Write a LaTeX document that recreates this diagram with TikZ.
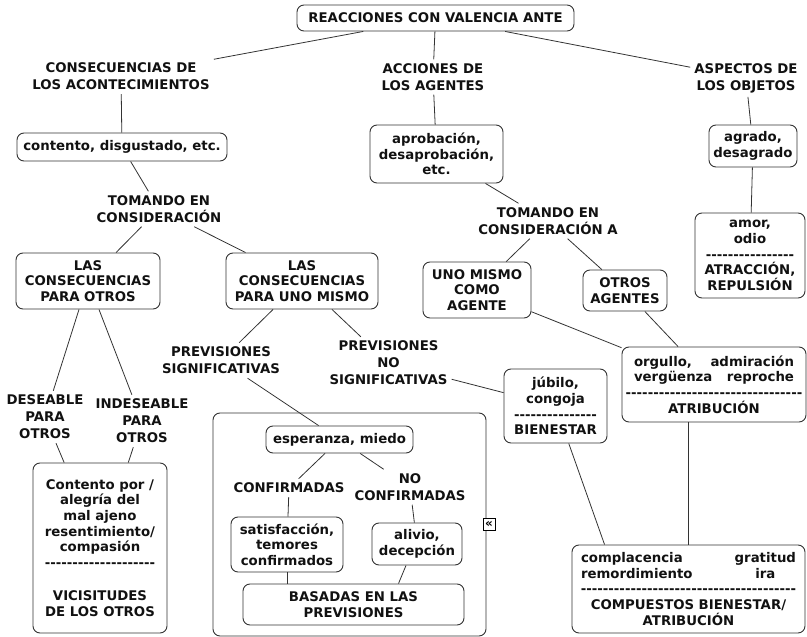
\documentclass[tikz,border=0pt]{standalone}
\usepackage{fontspec}
\setmainfont{DejaVu Sans}
\usetikzlibrary{positioning}
\definecolor{trazo}{HTML}{333333}
\definecolor{texto}{HTML}{111111}
\newcommand\guiones[1]{\foreach\g in {1,...,#1}{\mbox{-}}}

\begin{document}
\begin{tikzpicture}[
    x=1pt, y=-1pt,
    caja/.style={draw=trazo, line width=0.9pt, rounded corners=7pt,
      inner sep=0pt, align=center, text=texto,
      font=\fontsize{13.3}{15.6}\selectfont\bfseries},
    etiqueta/.style={inner sep=4pt, align=center, text=texto,
      font=\fontsize{13.3}{17}\selectfont\bfseries},
    enlace/.style={draw=trazo, line width=0.8pt}
  ]
  \useasboundingbox (0,0) rectangle (807,637);

  % marco de las previsiones
  \node[caja, minimum width=273pt, minimum height=223pt] (marco) at (349.5,524.5) {};

  \node[caja, minimum width=277pt, minimum height=26pt] (raiz) at (435.5,18) {REACCIONES CON VALENCIA ANTE};

  \node[etiqueta] (acont) at (121,76.5) {CONSECUENCIAS DE\\LOS ACONTECIMIENTOS};
  \node[etiqueta] (acciones) at (433,77) {ACCIONES DE\\LOS AGENTES};
  \node[etiqueta] (objetos) at (746,78) {ASPECTOS DE\\LOS OBJETOS};

  \node[caja, minimum width=210pt, minimum height=28pt] (contento) at (122,147) {contento, disgustado, etc.};
  \node[caja, minimum width=133pt, minimum height=58pt] (aprob) at (436.5,154) {aprobación,\\desaprobación,\\etc.};
  \node[caja, minimum width=88pt, minimum height=42pt] (agrado) at (753,146) {agrado,\\desagrado};

  \node[etiqueta] (toma1) at (159,209) {TOMANDO EN\\CONSIDERACIÓN};
  \node[etiqueta] (toma2) at (548,221) {TOMANDO EN\\CONSIDERACIÓN A};

  \node[caja, minimum width=110pt, minimum height=85pt] (amor) at (750,255.5)
    {amor,\\odio\\\guiones{16}\\ATRACCIÓN,\\REPULSIÓN};

  \node[caja, minimum width=144pt, minimum height=56pt] (otros) at (88,281) {LAS\\CONSECUENCIAS\\PARA OTROS};
  \node[caja, minimum width=152pt, minimum height=56pt] (mismo) at (302,281) {LAS\\CONSECUENCIAS\\PARA UNO MISMO};
  \node[caja, minimum width=108pt, minimum height=56pt] (agente) at (477,290) {UNO MISMO\\COMO\\AGENTE};
  \node[caja, minimum width=84pt, minimum height=41pt] (otrosag) at (625,290.5) {OTROS\\AGENTES};

  \node[etiqueta] (sig) at (221,360.5) {PREVISIONES\\SIGNIFICATIVAS};
  \node[etiqueta] (nosig) at (388.5,363) {PREVISIONES\\NO\\SIGNIFICATIVAS};

  \node[caja, text width=160pt, minimum width=184pt, minimum height=75pt] (orgullo) at (714,384.5)
    {orgullo,\hfill admiración\\vergüenza\hfill reproche\\\makebox[\linewidth]{\guiones{32}}\\ATRIBUCIÓN};
  \node[caja, minimum width=103pt, minimum height=74pt] (jubilo) at (555.5,406)
    {júbilo,\\congoja\\\guiones{15}\\BIENESTAR};

  \node[etiqueta] (deseable) at (45,417) {DESEABLE\\PARA\\OTROS};
  \node[etiqueta] (indeseable) at (142,421) {INDESEABLE\\PARA\\OTROS};

  \node[caja, minimum width=134pt, minimum height=170pt] (vicis) at (100,548)
    {Contento por /\\alegría del\\mal ajeno\\resentimiento/\\compasión\\\guiones{20}\\[18pt]VICISITUDES\\DE LOS OTROS};

  \node[caja, minimum width=147pt, minimum height=27pt] (esper) at (339.5,439.5) {esperanza, miedo};
  \node[etiqueta] (conf) at (289,488) {CONFIRMADAS};
  \node[etiqueta] (noconf) at (410,487) {NO\\CONFIRMADAS};
  \node[caja, minimum width=112pt, minimum height=55pt] (satis) at (287,544.5) {satisfacción,\\temores\\confirmados};
  \node[caja, minimum width=90pt, minimum height=42pt] (alivio) at (417,544) {alivio,\\decepción};
  \node[caja, minimum width=221pt, minimum height=41pt] (basadas) at (353.5,604.5) {BASADAS EN LAS\\PREVISIONES};
  \node[draw=black, line width=0.7pt, fill=white, inner sep=0pt, minimum size=12pt,
    font=\fontsize{12}{12}\selectfont\bfseries] (plegar) at (489,524) {«};

  \node[caja, text width=215pt, minimum width=233pt, minimum height=88pt] (compuestos) at (688.5,589)
    {complacencia\hfill gratitud\\remordimiento\hfill\makebox[4.6em]{ira}\\\makebox[\linewidth]{\guiones{39}}\\COMPUESTOS BIENESTAR/\\ATRIBUCIÓN};

  \draw[enlace] (raiz) -- (acont);
  \draw[enlace] (raiz) -- (acciones);
  \draw[enlace] (raiz) -- (objetos);
  \draw[enlace] (acont) -- (contento);
  \draw[enlace] (acciones) -- (aprob);
  \draw[enlace] (objetos) -- (agrado);
  \draw[enlace] (contento) -- (toma1);
  \draw[enlace] (aprob) -- (toma2);
  \draw[enlace] (agrado) -- (amor);
  \draw[enlace] (toma1) -- (otros);
  \draw[enlace] (toma1) -- (mismo);
  \draw[enlace] (toma2) -- (agente);
  \draw[enlace] (toma2) -- (otrosag);
  \draw[enlace] (otros) -- (deseable);
  \draw[enlace] (otros) -- (indeseable);
  \draw[enlace] (deseable) -- (vicis);
  \draw[enlace] (indeseable) -- (vicis);
  \draw[enlace] (mismo) -- (sig);
  \draw[enlace] (mismo) -- (nosig);
  \draw[enlace] (sig) -- (esper);
  \draw[enlace] (nosig) -- (jubilo);
  \draw[enlace] (agente) -- (orgullo);
  \draw[enlace] (otrosag) -- (orgullo);
  \draw[enlace] (esper) -- (conf);
  \draw[enlace] (esper) -- (noconf);
  \draw[enlace] (conf) -- (satis);
  \draw[enlace] (noconf) -- (alivio);
  \draw[enlace] (satis.south) -- (satis.south |- basadas.north);
  \draw[enlace] ([xshift=-11pt]alivio.south) -- ([xshift=45pt]basadas.north);
  \draw[enlace] (jubilo) -- ([xshift=33pt]compuestos.north west);
  \draw[enlace] (orgullo.south -| compuestos.north) -- (compuestos.north);
\end{tikzpicture}
\end{document}
